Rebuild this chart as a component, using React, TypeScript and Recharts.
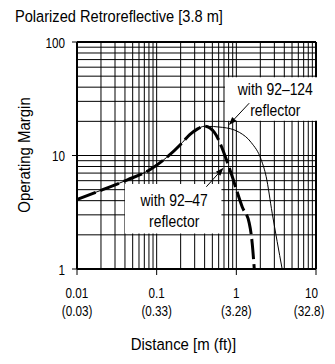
import React from 'react';
import { ComposedChart, Line, XAxis, YAxis, ReferenceLine, ReferenceArea } from 'recharts';

const FONT = "'Liberation Sans', Arial, sans-serif";

const X_TICKS = [0.01, 0.1, 1, 10];
const X_TICK_M = ['0.01', '0.1', '1', '10'];
const X_TICK_FT = ['(0.03)', '(0.33)', '(3.28)', '(32.8)'];
const Y_TICKS = [1, 10, 100];

const GRID_X = [
  0.02, 0.03, 0.04, 0.05, 0.06, 0.07, 0.08, 0.09, 0.1,
  0.2, 0.3, 0.4, 0.5, 0.6, 0.7, 0.8, 0.9, 1,
  2, 3, 4, 5, 6, 7, 8, 9,
];
const GRID_Y = [
  2, 3, 4, 5, 6, 7, 8, 9, 10,
  20, 30, 40, 50, 60, 70, 80, 90,
];

// with 92-124 reflector (thin solid)
const distance124 = [0.01, 0.021, 0.043, 0.082, 0.133, 0.21, 0.26, 0.32, 0.4, 0.67, 1.09, 1.54, 2.05, 2.37, 2.82, 3.76];
const margin124 = [4.1, 5.0, 6.1, 7.5, 9.6, 13.0, 15.3, 17.0, 18.1, 17.7, 16.0, 13.0, 9.2, 6.5, 3.1, 1.0];

// with 92-47 reflector (thick dashed)
const distance47 = [0.01, 0.021, 0.043, 0.082, 0.133, 0.21, 0.26, 0.32, 0.4, 0.53, 0.65, 0.75, 0.89, 1.19, 1.45, 1.58, 1.68];
const margin47 = [4.1, 5.0, 6.1, 7.5, 9.6, 13.0, 15.3, 17.0, 18.1, 16.0, 12.0, 9.2, 6.5, 3.5, 2.55, 1.7, 1.0];

// annotation boxes [x1, x2, y1, y2] and arrows [tailX, tailY, tipX, tipY]
const box124 = [0.72, 10.5, 20.2, 49];
const box47 = [0.04, 0.65, 2.05, 5.6];
const arrow124 = [1.45, 28.9, 0.806, 18.6];
const arrow47 = [0.42, 5.3, 0.69, 7.8];
const label124 = ['with 92\u2013124', 'reflector'];
const label47 = ['with 92\u201347', 'reflector'];

const TITLE = 'Polarized Retroreflective [3.8 m]';
const X_LABEL = 'Distance [m (ft)]';
const Y_LABEL = 'Operating Margin';

const data124 = distance124.map((x, i) => ({ x, y: margin124[i] }));
const data47 = distance47.map((x, i) => ({ x, y: margin47[i] }));

// condensed text: a normal sans face squeezed horizontally
const CText = (props: any) => {
  const { x, y, sx, size, anchor = 'start', rotate = 0, children } = props;
  const t = `translate(${x},${y})${rotate ? ` rotate(${rotate})` : ''} scale(${sx},1)`;
  return (
    <text transform={t} x={0} y={0} textAnchor={anchor} fontSize={size} fontFamily={FONT} fill="#000">
      {children}
    </text>
  );
};

const XTick = (props: any) => {
  const { x, y, index } = props;
  const last = index === X_TICKS.length - 1;
  return (
    <g>
      <CText x={x - (last ? 4.5 : 0)} y={y + 23} sx={0.78} size={15} anchor="middle">{X_TICK_M[index]}</CText>
      <CText x={x - (last ? 7 : 0)} y={y + 41} sx={0.78} size={15} anchor="middle">{X_TICK_FT[index]}</CText>
    </g>
  );
};

const YTick = (props: any) => {
  const { x, y, payload } = props;
  return (
    <CText x={x} y={y + 5.5} sx={0.78} size={15} anchor="end">{String(payload.value)}</CText>
  );
};

const ArrowShape = (props: any) => {
  const { x1, y1, x2, y2 } = props;
  if ([x1, y1, x2, y2].some((v) => typeof v !== 'number' || isNaN(v))) return <g />;
  const dx = x2 - x1;
  const dy = y2 - y1;
  const len = Math.sqrt(dx * dx + dy * dy);
  const ux = dx / len;
  const uy = dy / len;
  const hl = 8;
  const hw = 3;
  const bx = x2 - ux * hl;
  const by = y2 - uy * hl;
  return (
    <g>
      <line x1={x1} y1={y1} x2={bx} y2={by} stroke="#000" strokeWidth={1} />
      <polygon
        points={`${x2},${y2} ${bx - uy * hw},${by + ux * hw} ${bx + uy * hw},${by - ux * hw}`}
        fill="#000"
      />
    </g>
  );
};

const makeBoxLabel = (lines: string[], shift: number, b1: number, b2: number) => (props: any) => {
  const vb = props.viewBox || {};
  const tx = vb.x + vb.width / 2 + shift;
  return (
    <g>
      <CText x={tx} y={vb.y + b1} sx={0.87} size={16} anchor="middle">{lines[0]}</CText>
      <CText x={tx} y={vb.y + b2} sx={0.87} size={16} anchor="middle">{lines[1]}</CText>
    </g>
  );
};

export default function App() {
  return (
    <div style={{ position: 'relative', width: 327, height: 356, fontFamily: FONT }}>
      <style>{'.recharts-wrapper svg, .recharts-surface { overflow: visible; }'}</style>
      <ComposedChart width={327} height={356} margin={{ top: 34, right: 19, left: 0, bottom: 0 }}>
        <XAxis
          dataKey="x"
          type="number"
          scale="log"
          domain={[0.01, 10]}
          ticks={X_TICKS}
          allowDataOverflow
          height={95}
          axisLine={{ stroke: '#000', strokeWidth: 2 }}
          tickLine={{ stroke: '#000', strokeWidth: 1 }}
          tickSize={6}
          tickMargin={0}
          tick={<XTick />}
          interval={0}
          zIndex={500}
        />
        <YAxis
          type="number"
          scale="log"
          domain={[1, 100]}
          ticks={Y_TICKS}
          allowDataOverflow
          width={69}
          axisLine={{ stroke: '#000', strokeWidth: 2 }}
          tickLine={{ stroke: '#000', strokeWidth: 1 }}
          tickSize={5}
          tickMargin={7}
          tick={<YTick />}
          interval={0}
          zIndex={500}
        />
        {GRID_X.map((v) => (
          <ReferenceLine key={'gx' + v} x={v} stroke="#000" strokeWidth={1} zIndex={50} />
        ))}
        <ReferenceLine x={10} stroke="#000" strokeWidth={2} zIndex={50} />
        {GRID_Y.map((v) => (
          <ReferenceLine key={'gy' + v} y={v} stroke="#000" strokeWidth={1} zIndex={50} />
        ))}
        <ReferenceLine y={100} stroke="#000" strokeWidth={2} zIndex={50} />
        <ReferenceArea
          x1={box124[0]} x2={box124[1]} y1={box124[2]} y2={box124[3]}
          fill="#fff" fillOpacity={1} stroke="none" ifOverflow="visible" zIndex={60}
          label={makeBoxLabel(label124, 4, 18, 39)}
        />
        <ReferenceArea
          x1={box47[0]} x2={box47[1]} y1={box47[2]} y2={box47[3]}
          fill="#fff" fillOpacity={1} stroke="none" ifOverflow="visible" zIndex={60}
          label={makeBoxLabel(label47, 1, 22, 43)}
        />
        <Line
          data={data124}
          dataKey="y"
          type="monotone"
          stroke="#000"
          strokeWidth={1}
          dot={false}
          activeDot={false}
          isAnimationActive={false}
          zIndex={400}
        />
        <Line
          data={data47}
          dataKey="y"
          type="monotone"
          stroke="#000"
          strokeWidth={3}
          strokeDasharray="20 5"
          dot={false}
          activeDot={false}
          isAnimationActive={false}
          zIndex={410}
        />
        <ReferenceLine
          segment={[{ x: arrow124[0], y: arrow124[1] }, { x: arrow124[2], y: arrow124[3] }]}
          shape={ArrowShape}
          ifOverflow="visible"
          zIndex={450}
        />
        <ReferenceLine
          segment={[{ x: arrow47[0], y: arrow47[1] }, { x: arrow47[2], y: arrow47[3] }]}
          shape={ArrowShape}
          ifOverflow="visible"
          zIndex={450}
        />
      </ComposedChart>
      <svg width={327} height={356} style={{ position: 'absolute', left: 0, top: 0, pointerEvents: 'none' }}>
        <CText x={7} y={14} sx={0.86} size={17}>{TITLE}</CText>
        <CText x={22} y={147} sx={0.88} size={17} anchor="middle" rotate={-90}>{Y_LABEL}</CText>
        <CText x={175.5} y={341.5} sx={0.88} size={17} anchor="middle">{X_LABEL}</CText>
      </svg>
    </div>
  );
}
